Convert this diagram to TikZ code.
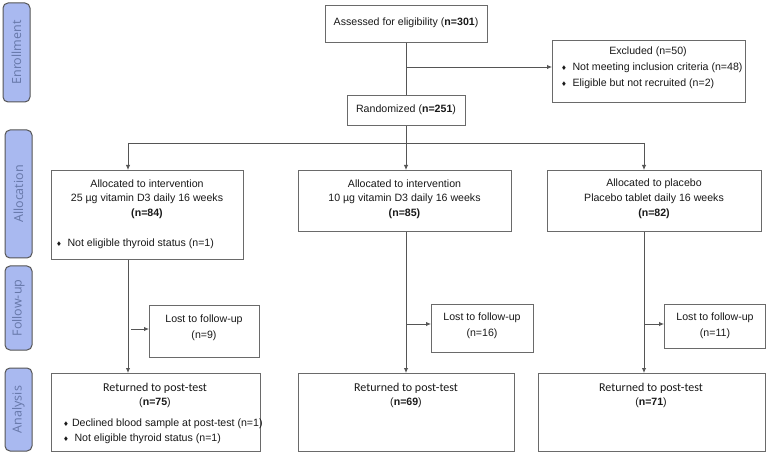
\documentclass[tikz,border=0pt]{standalone}
\usepackage{fontspec}
\setmainfont{Liberation Sans}
\newfontfamily\sidefont{Open Sans}
\newfontfamily\retfont{Carlito}
\newfontfamily\dejfont{DejaVu Sans}
\usetikzlibrary{arrows.meta}
\definecolor{sidefill}{HTML}{A9B9F0}
\definecolor{sidetext}{HTML}{6677A8}
\definecolor{lncol}{HTML}{555555}
\definecolor{bxcol}{HTML}{6A6A6A}
\newcommand{\dmd}{{\dejfont\fontsize{6.5}{6.5}\selectfont ♦}}
\begin{document}
\begin{tikzpicture}[x=1pt,y=-1pt,
  sidebox/.style={draw=lncol, line width=1pt, fill=sidefill, rounded corners=5pt, inner sep=0pt},
  sidelabel/.style={text=sidetext, font=\sidefont\fontsize{12.5}{14}\selectfont, rotate=90},
  box/.style={draw=bxcol, line width=0.9pt, fill=white, inner sep=0pt, anchor=north west},
  txt/.style={font=\fontsize{10.6}{12}\selectfont, inner sep=0pt, text=black!90},
  rtxt/.style={font=\retfont\fontsize{12}{13}\selectfont, inner sep=0pt, text=black!90},
  ltxt/.style={txt, anchor=west},
  conn/.style={draw=lncol, line width=0.9pt},
  arr/.style={conn, -{Latex[length=5pt,width=4.5pt]}}
]
\useasboundingbox (0,0) rectangle (768,454);
\fill[white] (0,0) rectangle (768,454);

% side labels
\draw[sidebox] (3,3) rectangle (30,102);
\node[sidelabel] (lenr) at (16.5,52.5) {Enrollment};
\draw[sidebox] (5,130) rectangle (32,258);
\node[sidelabel] (lall) at (18.5,194) {Allocation};
\draw[sidebox] (5,266) rectangle (32,350);
\node[sidelabel] (lfol) at (18.5,308) {Follow-up};
\draw[sidebox] (5,368) rectangle (32,451);
\node[sidelabel] (lana) at (18.5,409.5) {Analysis};

% boxes
\node[box, minimum width=162pt, minimum height=37pt] (assess) at (325,5) {};
\node[txt] (tassess) at (406,23) {Assessed for eligibility (\textbf{n=301})};

\node[box, minimum width=193pt, minimum height=62pt] (excl) at (552,40) {};
\node[txt] (texcl) at (648,52) {Excluded (n=50)};
\node[ltxt] (e1) at (561,68) {\dmd\hspace{5.5pt}Not meeting inclusion criteria (n=48)};
\node[ltxt] (e2) at (561,84) {\dmd\hspace{5.5pt}Eligible but not recruited (n=2)};

\node[box, minimum width=118pt, minimum height=30pt] (rand) at (347,95) {};
\node[txt] (trand) at (406,110) {Randomized (\textbf{n=251})};

\node[box, minimum width=192pt, minimum height=89pt] (a1) at (51,170) {};
\node[txt] (a1l1) at (147,184) {Allocated to intervention};
\node[txt] (a1l2) at (147,199) {25 µg vitamin D3 daily 16 weeks};
\node[txt] (a1l3) at (147,214) {\textbf{(n=84)}};
\node[ltxt] (a1b) at (56,244) {\dmd\hspace{5.5pt}Not eligible thyroid status (n=1)};

\node[box, minimum width=213pt, minimum height=61pt] (a2) at (298,170) {};
\node[txt] (a2l1) at (404.5,184) {Allocated to intervention};
\node[txt] (a2l2) at (404.5,199) {10 µg vitamin D3 daily 16 weeks};
\node[txt] (a2l3) at (404.5,214) {\textbf{(n=85)}};

\node[box, minimum width=214pt, minimum height=61pt] (a3) at (547,170) {};
\node[txt] (a3l1) at (654,184) {Allocated to placebo};
\node[txt] (a3l2) at (654,199) {Placebo tablet daily 16 weeks};
\node[txt] (a3l3) at (654,214) {\textbf{(n=82)}};

\node[box, minimum width=110pt, minimum height=52pt] (f1) at (149,305) {};
\node[txt] (f1l1) at (204,320) {Lost to follow-up};
\node[txt] (f1l2) at (204,336) {(n=9)};

\node[box, minimum width=102pt, minimum height=48pt] (f2) at (431,304) {};
\node[txt] (f2l1) at (482,318) {Lost to follow-up};
\node[txt] (f2l2) at (482,334) {(n=16)};

\node[box, minimum width=101pt, minimum height=44pt] (f3) at (664,304) {};
\node[txt] (f3l1) at (715,318) {Lost to follow-up};
\node[txt] (f3l2) at (715,334) {(n=11)};

\node[box, minimum width=209pt, minimum height=78pt] (r1) at (51,373) {};
\node[rtxt] (r1l1) at (155,388) {Returned to post-test};
\node[txt] (r1l2) at (155,403) {(\textbf{n=75})};
\node[ltxt] (r1b1) at (63,424) {\dmd\hspace{3pt}Declined blood sample at post-test (n=1)};
\node[ltxt] (r1b2) at (63,439) {\dmd\hspace{5.5pt}Not eligible thyroid status (n=1)};

\node[box, minimum width=216pt, minimum height=78pt] (r2) at (298,373) {};
\node[rtxt] (r2l1) at (406,388) {Returned to post-test};
\node[txt] (r2l2) at (406,403) {(\textbf{n=69})};

\node[box, minimum width=227pt, minimum height=78pt] (r3) at (538,373) {};
\node[rtxt] (r3l1) at (651,388) {Returned to post-test};
\node[txt] (r3l2) at (651,403) {(\textbf{n=71})};

% connectors
\coordinate (c0) at (406,42);
\coordinate (cx) at (406,67);
\draw[conn] (assess.south -| c0) -- (rand.north -| c0);
\draw[arr] (cx) -- (excl.west |- cx);

\coordinate (cb) at (406,143);
\coordinate (col1) at (128,143);
\coordinate (col3) at (644,143);
\draw[conn] (rand.south -| cb) -- (cb);
\draw[conn] (col1) -- (col3);
\draw[arr] (col1) -- (a1.north -| col1);
\draw[arr] (cb) -- (a2.north -| cb);
\draw[arr] (col3) -- (a3.north -| col3);

\draw[arr] (a1.south -| col1) -- (r1.north -| col1);
\draw[arr] (a2.south -| cb) -- (r2.north -| cb);
\draw[arr] (a3.south -| col3) -- (r3.north -| col3);

\coordinate (k1) at (131,329);
\coordinate (k2) at (406,324);
\coordinate (k3) at (644,324);
\draw[arr] (k1) -- (f1.west |- k1);
\draw[arr] (k2) -- (f2.west |- k2);
\draw[arr] (k3) -- (f3.west |- k3);
\end{tikzpicture}
\end{document}
